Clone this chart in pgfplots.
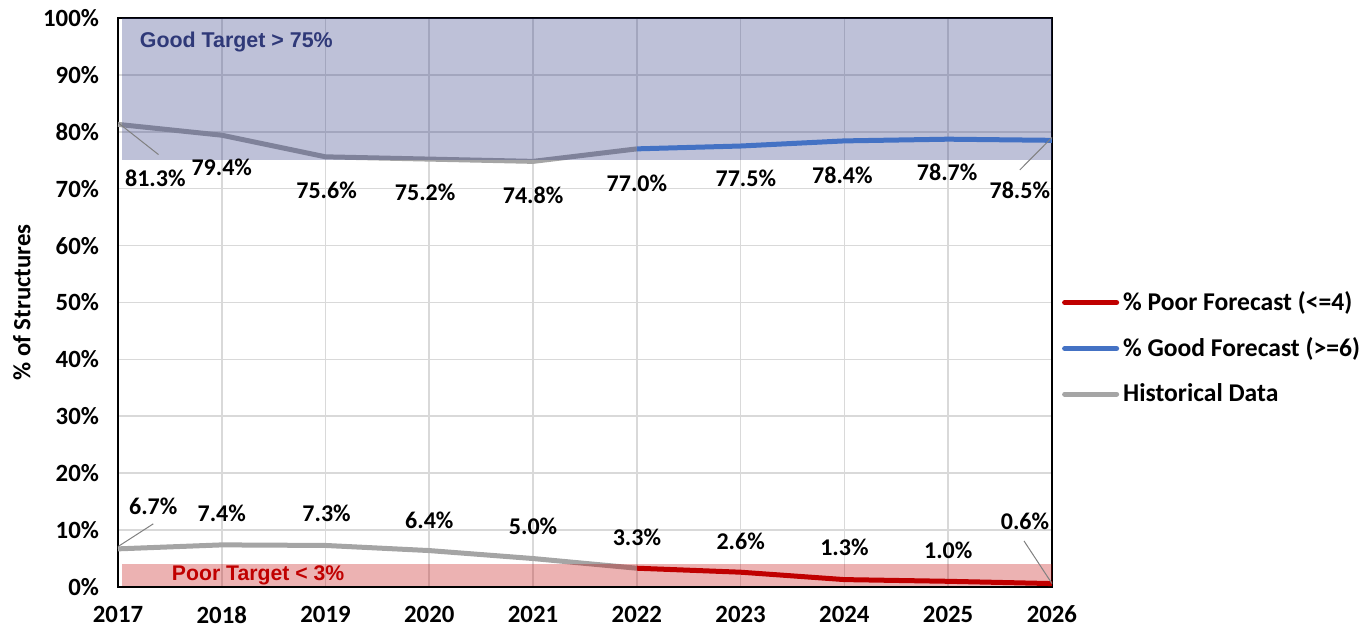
\documentclass[border=0pt]{standalone}
\usepackage{fontspec}
\setmainfont{Carlito}
\newfontfamily\arialfont{Liberation Sans}
\usepackage{pgfplots}
\pgfplotsset{compat=1.18}
\definecolor{cRed}{RGB}{192,0,0}
\definecolor{cBlue}{RGB}{68,114,196}
\definecolor{cGray}{RGB}{165,165,165}
\definecolor{cNavy}{RGB}{44,54,130}
\definecolor{cNavyText}{RGB}{47,57,120}
\definecolor{cGrid}{RGB}{217,217,217}
\begin{document}
\begin{tikzpicture}
\path[use as bounding box] (-59pt,-21.5pt) rectangle (620.5pt,293.5pt);
\begin{axis}[
  scale only axis,
  width=467pt, height=284.5pt,
  xmin=2017, xmax=2026, ymin=0, ymax=100,
  xtick={2017,...,2026},
  xticklabels={2017,2018,2019,2020,2021,2022,2023,2024,2025,2026},
  ytick={0,10,...,100},
  yticklabels={0\%,10\%,20\%,30\%,40\%,50\%,60\%,70\%,80\%,90\%,100\%},
  major tick length=0pt,
  grid=major,
  grid style={cGrid, line width=0.8pt},
  axis line style={black, line width=0.9pt},
  ticklabel style={font=\bfseries\fontsize{12.4}{14}\selectfont},
  yticklabel style={xshift=-6pt},
  xticklabel style={yshift=-6pt},
  /pgf/number format/assume math mode=true,
  ylabel={\% of Structures},
  every axis y label/.style={at={(axis description cs:-0.1028,0.5)}, rotate=90, anchor=center,
    font=\bfseries\fontsize{12.4}{14}\selectfont},
  legend style={at={(rel axis cs:1.004,0.42)}, anchor=west, draw=none, fill=none,
    font=\bfseries\fontsize{12.8}{15}\selectfont, row sep=8pt},
  legend cell align=left,
  legend image code/.code={\draw[#1, line width=2.5pt, line cap=round] (0pt,0pt) -- (26pt,0pt);},
  clip=false,
]
% historical
\addplot[cGray, line width=2.5pt, forget plot] coordinates {(2017,81.3) (2018,79.4) (2019,75.6) (2020,75.2) (2021,74.8) (2022,77.0)};
\addplot[cGray, line width=2.5pt, forget plot] coordinates {(2017,6.7) (2018,7.4) (2019,7.3) (2020,6.4) (2021,5.0) (2022,3.3)};
% bands
\addplot[draw=none, fill=cNavy, fill opacity=0.31, forget plot] coordinates {(2017.04,75) (2026,75) (2026,100) (2017.04,100)};
\addplot[draw=none, fill=cRed, fill opacity=0.3, forget plot] coordinates {(2017.04,0.2) (2026,0.2) (2026,4) (2017.04,4)};
% forecasts
\addplot[cBlue, line width=2.5pt, forget plot] coordinates {(2022,77.0) (2023,77.5) (2024,78.4) (2025,78.7) (2026,78.5)};
\addplot[cRed, line width=2.5pt, forget plot] coordinates {(2022,3.3) (2023,2.6) (2024,1.3) (2025,1.0) (2026,0.6)};
\addlegendimage{cRed}
\addlegendentry{\% Poor Forecast (<=4)}
\addlegendimage{cBlue}
\addlegendentry{\% Good Forecast (>=6)}
\addlegendimage{cGray}
\addlegendentry{Historical Data}
% band texts
\node[font=\arialfont\bfseries\fontsize{10.7}{12}\selectfont, text=cNavyText] at (axis cs:2018.14,95.8) {Good Target > 75\%};
\node[font=\arialfont\bfseries\fontsize{10.6}{12}\selectfont, text=cRed] at (axis cs:2018.35,2.1) {Poor Target < 3\%};
% leader lines
\draw[gray, line width=0.5pt] (axis cs:2017,81.6) -- (axis cs:2017.39,76.0);
\draw[gray, line width=0.5pt] (axis cs:2026,79.0) -- (axis cs:2025.69,73.3);
\draw[gray, line width=0.5pt] (axis cs:2017,7.1) -- (axis cs:2017.34,11.1);
\draw[gray, line width=0.5pt] (axis cs:2026,0.6) -- (axis cs:2025.73,8.1);
% data labels
\begin{scope}[every node/.style={font=\bfseries\fontsize{12}{14}\selectfont}]
\node at (axis cs:2017.36,71.9) {81.3\%};
\node at (axis cs:2018.0,73.7) {79.4\%};
\node at (axis cs:2019.01,69.8) {75.6\%};
\node at (axis cs:2019.96,69.3) {75.2\%};
\node at (axis cs:2021.0,68.9) {74.8\%};
\node at (axis cs:2022.0,71.0) {77.0\%};
\node at (axis cs:2023.05,71.9) {77.5\%};
\node at (axis cs:2023.98,72.4) {78.4\%};
\node at (axis cs:2024.99,72.8) {78.7\%};
\node at (axis cs:2025.69,69.8) {78.5\%};
\node at (axis cs:2017.34,14.1) {6.7\%};
\node at (axis cs:2018.0,12.9) {7.4\%};
\node at (axis cs:2019.01,12.9) {7.3\%};
\node at (axis cs:2020.0,11.8) {6.4\%};
\node at (axis cs:2021.0,10.6) {5.0\%};
\node at (axis cs:2022.0,8.7) {3.3\%};
\node at (axis cs:2023.0,8.1) {2.6\%};
\node at (axis cs:2024.0,6.9) {1.3\%};
\node at (axis cs:2025.0,6.5) {1.0\%};
\node at (axis cs:2025.74,11.5) {0.6\%};
\end{scope}
\end{axis}
\end{tikzpicture}
\end{document}
